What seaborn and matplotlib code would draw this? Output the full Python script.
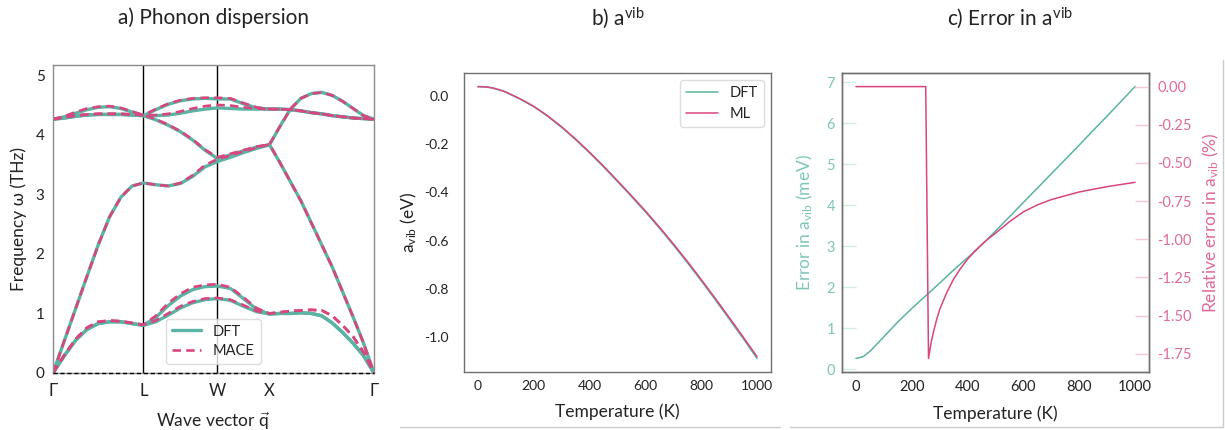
import numpy as np
import pandas as pd
import matplotlib
matplotlib.use("Agg")
import matplotlib.pyplot as plt
import seaborn as sns
from matplotlib.lines import Line2D

# ---------------- data: a) phonon dispersion ----------------
path_labels = ["Γ", "L", "W", "X", "Γ"]
seg_lengths = [0.866, 0.707, 0.5, 1.0]          # |Δq| of Γ-L, L-W, W-X, X-Γ
t_GL = [0, .125, .25, .375, .5, .625, .75, .875, 1]
t_LW = [0, 1/6, 2/6, 3/6, 4/6, 5/6, 1]
t_WX = [0, .25, .5, .75, 1]
t_XG = [0, .1, .2, .3, .4, .5, .6, .7, .8, .9, 1]

# DFT bands: [Γ-L, L-W, W-X, X-Γ]
dft_TA1 = [[0, 0.29, 0.55, 0.73, 0.83, 0.86, 0.86, 0.83, 0.80],
           [0.80, 0.86, 0.97, 1.09, 1.18, 1.23, 1.25],
           [1.25, 1.22, 1.12, 1.03, 0.99],
           [0.99, 1.00, 1.00, 1.01, 1.00, 0.96, 0.84, 0.68, 0.50, 0.29, 0]]
dft_TA2 = [[0, 0.29, 0.55, 0.73, 0.83, 0.86, 0.86, 0.83, 0.80],
           [0.80, 0.93, 1.13, 1.29, 1.40, 1.45, 1.46],
           [1.46, 1.42, 1.25, 1.07, 0.99],
           [0.99, 1.00, 1.00, 1.01, 1.00, 0.96, 0.84, 0.68, 0.50, 0.29, 0]]
dft_LA = [[0, 0.54, 1.08, 1.62, 2.15, 2.62, 2.95, 3.14, 3.19],
          [3.19, 3.16, 3.14, 3.18, 3.30, 3.46, 3.55],
          [3.55, 3.62, 3.70, 3.77, 3.83],
          [3.83, 3.53, 3.21, 2.89, 2.52, 2.15, 1.78, 1.36, 0.94, 0.50, 0]]
dft_O1 = [[4.26, 4.28, 4.31, 4.33, 4.34, 4.34, 4.34, 4.33, 4.32],
          [4.32, 4.32, 4.33, 4.36, 4.40, 4.43, 4.45],
          [4.45, 4.44, 4.43, 4.43, 4.43],
          [4.43, 4.43, 4.42, 4.40, 4.37, 4.35, 4.32, 4.30, 4.28, 4.27, 4.26]]
dft_O2 = [[4.26, 4.28, 4.31, 4.33, 4.34, 4.34, 4.34, 4.33, 4.32],
          [4.32, 4.42, 4.51, 4.57, 4.60, 4.61, 4.60],
          [4.60, 4.60, 4.52, 4.45, 4.43],
          [4.43, 4.43, 4.42, 4.40, 4.37, 4.35, 4.32, 4.30, 4.28, 4.27, 4.26]]
dft_O3 = [[4.26, 4.30, 4.36, 4.42, 4.46, 4.47, 4.44, 4.38, 4.32],
          [4.32, 4.25, 4.16, 4.05, 3.91, 3.74, 3.60],
          [3.60, 3.66, 3.73, 3.79, 3.83],
          [3.83, 4.14, 4.43, 4.61, 4.69, 4.71, 4.66, 4.56, 4.44, 4.32, 4.26]]

# MACE bands
mace_TA1 = [[0, 0.30, 0.57, 0.76, 0.86, 0.88, 0.87, 0.84, 0.81],
            [0.81, 0.88, 1.00, 1.12, 1.20, 1.25, 1.26],
            [1.26, 1.23, 1.14, 1.04, 1.00],
            [1.00, 1.02, 1.04, 1.05, 1.06, 1.05, 0.96, 0.80, 0.61, 0.35, 0]]
mace_TA2 = [[0, 0.30, 0.57, 0.76, 0.86, 0.88, 0.87, 0.84, 0.81],
            [0.81, 0.96, 1.17, 1.33, 1.44, 1.48, 1.49],
            [1.49, 1.44, 1.27, 1.09, 1.00],
            [1.00, 1.02, 1.04, 1.05, 1.06, 1.05, 0.96, 0.80, 0.61, 0.35, 0]]
mace_LA = [[0, 0.54, 1.08, 1.62, 2.15, 2.62, 2.95, 3.14, 3.19],
           [3.19, 3.16, 3.14, 3.19, 3.32, 3.49, 3.59],
           [3.59, 3.65, 3.72, 3.78, 3.84],
           [3.84, 3.53, 3.21, 2.89, 2.52, 2.15, 1.78, 1.36, 0.94, 0.50, 0]]
mace_O1 = [[4.26, 4.29, 4.32, 4.34, 4.35, 4.35, 4.35, 4.34, 4.33],
           [4.33, 4.33, 4.35, 4.39, 4.44, 4.48, 4.50],
           [4.50, 4.49, 4.46, 4.44, 4.43],
           [4.43, 4.43, 4.42, 4.40, 4.37, 4.35, 4.32, 4.30, 4.28, 4.27, 4.26]]
mace_O2 = [[4.26, 4.29, 4.32, 4.34, 4.35, 4.35, 4.35, 4.34, 4.33],
           [4.33, 4.43, 4.52, 4.58, 4.61, 4.62, 4.62],
           [4.62, 4.61, 4.53, 4.46, 4.43],
           [4.43, 4.43, 4.42, 4.40, 4.37, 4.35, 4.32, 4.30, 4.28, 4.27, 4.26]]
mace_O3 = [[4.26, 4.31, 4.38, 4.44, 4.47, 4.48, 4.45, 4.39, 4.33],
           [4.33, 4.26, 4.17, 4.06, 3.92, 3.75, 3.62],
           [3.62, 3.68, 3.74, 3.80, 3.84],
           [3.84, 4.14, 4.43, 4.61, 4.69, 4.71, 4.66, 4.56, 4.44, 4.32, 4.26]]

# ---------------- data: b) a_vib ----------------
T_b = [0, 25, 50, 75, 100, 150, 200, 250, 300, 350, 400, 450, 500,
       550, 600, 650, 700, 750, 800, 850, 900, 950, 1000]
avib_dft = [0.039, 0.038, 0.034, 0.026, 0.016, -0.012, -0.044, -0.084, -0.130, -0.181, -0.236, -0.294, -0.355,
            -0.417, -0.481, -0.548, -0.618, -0.691, -0.767, -0.845, -0.925, -1.006, -1.089]

# ---------------- data: c) error ----------------
err_meV = [0.26, 0.30, 0.43, 0.61, 0.79, 1.15, 1.48, 1.79, 2.10, 2.42, 2.72, 3.03, 3.37,
           3.72, 4.07, 4.42, 4.77, 5.12, 5.47, 5.83, 6.18, 6.54, 6.90]
T_rel = [0, 250, 260, 270, 280, 290, 300, 325, 350, 375, 400, 425, 450, 475, 500,
         550, 600, 650, 700, 800, 900, 1000]
rel_err = [0.0, 0.0, -1.78, -1.67, -1.59, -1.52, -1.46, -1.35, -1.26, -1.19, -1.13, -1.08, -1.035, -0.995, -0.96,
           -0.885, -0.82, -0.775, -0.74, -0.69, -0.655, -0.627]

# ML curve = DFT + error
avib_ml = [a + e / 1000.0 for a, e in zip(avib_dft, err_meV)]

# ---------------- style ----------------
teal = "#5ab3a3"
pink = "#d8457f"
teal_lt = "#7ec6b8"
pink_lt = "#e06a9b"

sns.set_theme(style="white")
plt.rcParams["font.family"] = ["Lato", "DejaVu Sans"]
plt.rcParams["mathtext.fontset"] = "custom"
plt.rcParams["mathtext.rm"] = "Lato"
plt.rcParams["mathtext.it"] = "Lato:italic"
plt.rcParams["mathtext.bf"] = "Lato:bold"
plt.rcParams["axes.unicode_minus"] = False
txt = "#222222"

fig = plt.figure(figsize=(12.25, 4.3), dpi=100)
W, H = 1225, 430


def px_axes(l, t, r, b):
    return fig.add_axes([l / W, 1 - b / H, (r - l) / W, (b - t) / H])


# ---------------- panel a ----------------
ax1 = px_axes(53, 65, 374, 373)
bounds = np.concatenate([[0], np.cumsum(seg_lengths)])
seg_t = [t_GL, t_LW, t_WX, t_XG]
rows = []
for src, bands in [("DFT", dict(TA1=dft_TA1, TA2=dft_TA2, LA=dft_LA, O1=dft_O1, O2=dft_O2, O3=dft_O3)),
                   ("MACE", dict(TA1=mace_TA1, TA2=mace_TA2, LA=mace_LA, O1=mace_O1, O2=mace_O2, O3=mace_O3))]:
    for bname, segs in bands.items():
        for si, vals in enumerate(segs):
            for t, v in zip(seg_t[si], vals):
                rows.append(dict(source=src, band=bname, q=bounds[si] + t * seg_lengths[si], freq=v))
df_bands = pd.DataFrame(rows)

sns.lineplot(data=df_bands[df_bands.source == "DFT"], x="q", y="freq", units="band",
             estimator=None, sort=False, color=teal, lw=2.4, ax=ax1, legend=False)
n_dft = len(ax1.get_lines())
sns.lineplot(data=df_bands[df_bands.source == "MACE"], x="q", y="freq", units="band",
             estimator=None, sort=False, color=pink, lw=1.9, ax=ax1, legend=False)
for ln in ax1.get_lines()[n_dft:]:
    ln.set_dashes((3.2, 2.0))

for xv in bounds[1:3]:
    ax1.axvline(xv, color="black", lw=1.0, zorder=1)
ax1.axhline(0, color="black", lw=1.0, ls=(0, (3, 2)), zorder=4, clip_on=False)
ax1.set_xlim(bounds[0], bounds[-1])
ax1.set_ylim(0, 5.17)
ax1.set_xticks(bounds)
ax1.set_xticklabels(path_labels, fontsize=12, color=txt)
ax1.set_yticks([0, 1, 2, 3, 4, 5])
ax1.set_yticklabels(["0", "1", "2", "3", "4", "5"], fontsize=11, color=txt)
ax1.tick_params(axis="y", direction="in", length=11, width=1, color="#c4c4c4", pad=6)
ax1.tick_params(axis="x", direction="in", length=9.5, width=1, color="#c4c4c4", pad=7)
ax1.set_xlabel(r"Wave vector $\vec{\mathrm{q}}$", fontsize=12.5, color=txt, labelpad=8)
ax1.set_ylabel("Frequency ω (THz)", fontsize=12.5, color=txt, labelpad=6)
for s in ax1.spines.values():
    s.set_color("#8c8c8c")
    s.set_linewidth(1.0)
leg_handles = [Line2D([], [], color=teal, lw=2.4),
               Line2D([], [], color=pink, lw=1.9, dashes=(3.2, 2.0))]
lg = ax1.legend(leg_handles, ["DFT", "MACE"], loc="lower center", fontsize=10.5,
                frameon=True, handlelength=2.0, borderaxespad=0.6, labelspacing=0.4)
lg.get_frame().set_edgecolor("#d5d5d5")
for t_ in lg.get_texts():
    t_.set_color(txt)

# ---------------- panel b ----------------
ax2 = px_axes(464, 73, 771, 372)
sns.lineplot(x=T_b, y=avib_dft, color=teal, lw=1.1, ax=ax2, label="DFT")
sns.lineplot(x=T_b, y=avib_ml, color=pink, lw=1.1, ax=ax2, label="ML")
ax2.set_xticks([0, 200, 400, 600, 800, 1000])
ax2.set_yticks([0.0, -0.2, -0.4, -0.6, -0.8, -1.0])
ax2.set_yticklabels(["0.0", "-0.2", "-0.4", "-0.6", "-0.8", "-1.0"])
ax2.tick_params(axis="both", direction="in", length=10, width=1, color="#cfcfcf",
                labelsize=10, labelcolor=txt)
ax2.tick_params(axis="y", pad=11)
ax2.tick_params(axis="x", pad=6)
ax2.set_xlabel("Temperature (K)", fontsize=12.5, color=txt, labelpad=8)
ax2.set_ylabel(r"a$_{\mathrm{vib}}$ (eV)", fontsize=12.5, color=txt, labelpad=4)
for s in ax2.spines.values():
    s.set_color("#707070")
    s.set_linewidth(1.0)
lg2 = ax2.legend(loc="upper right", fontsize=10.5, handlelength=2.2, frameon=True)
lg2.get_frame().set_edgecolor("#d5d5d5")
for t_ in lg2.get_texts():
    t_.set_color(txt)

# ---------------- panel c ----------------
ax3 = px_axes(842, 73, 1149, 372)
sns.lineplot(x=T_b, y=err_meV, color=teal, lw=1.1, ax=ax3)
ax3r = ax3.twinx()
sns.lineplot(x=T_rel, y=rel_err, color=pink, lw=1.1, ax=ax3r)
ax3.set_xticks([0, 200, 400, 600, 800, 1000])
ax3.set_yticks(range(0, 8))
ax3.tick_params(axis="x", direction="in", length=10, width=1, color="#cfcfcf",
                labelsize=10.5, labelcolor=txt, pad=6)
ax3.tick_params(axis="y", direction="in", length=10, width=1, color="#d3ece6",
                labelsize=10.5, labelcolor=teal_lt, pad=5)
ax3r.set_yticks([0.0, -0.25, -0.5, -0.75, -1.0, -1.25, -1.5, -1.75])
ax3r.set_yticklabels(["0.00", "-0.25", "-0.50", "-0.75", "-1.00", "-1.25", "-1.50", "-1.75"])
ax3r.tick_params(axis="y", direction="in", length=10, width=1, color="#f3c6d8",
                 labelsize=10.5, labelcolor=pink_lt, pad=6)
ax3.set_xlabel("Temperature (K)", fontsize=12.5, color=txt, labelpad=8)
ax3.set_ylabel(r"Error in a$_{\mathrm{vib}}$ (meV)", fontsize=12.5, color=teal_lt, labelpad=8)
ax3r.set_ylabel(r"Relative error in a$_{\mathrm{vib}}$ (%)", fontsize=12.5, color=pink_lt, labelpad=6)
for a in (ax3, ax3r):
    for s in a.spines.values():
        s.set_color("#707070")
        s.set_linewidth(1.0)

# ---------------- titles ----------------
fig.text(213 / W, 1 - 18 / H, "a) Phonon dispersion", ha="center", va="center", fontsize=15, color=txt)
fig.text(618 / W, 1 - 18 / H, r"b) a$^{\mathrm{vib}}$", ha="center", va="center", fontsize=15, color=txt)
fig.text(1010 / W, 1 - 18 / H, r"c) Error in a$^{\mathrm{vib}}$", ha="center", va="center", fontsize=15, color=txt)

# separator lines
sep = "#cccccc"
fig.add_artist(Line2D([400 / W, 780 / W], [1 - 427 / H] * 2, color=sep, lw=1))
fig.add_artist(Line2D([790 / W, 1223 / W], [1 - 427 / H] * 2, color=sep, lw=1))
fig.add_artist(Line2D([1223 / W, 1223 / W], [1 - 427 / H, 1 - 60 / H], color=sep, lw=1))

fig.savefig("out.png", dpi=100)
